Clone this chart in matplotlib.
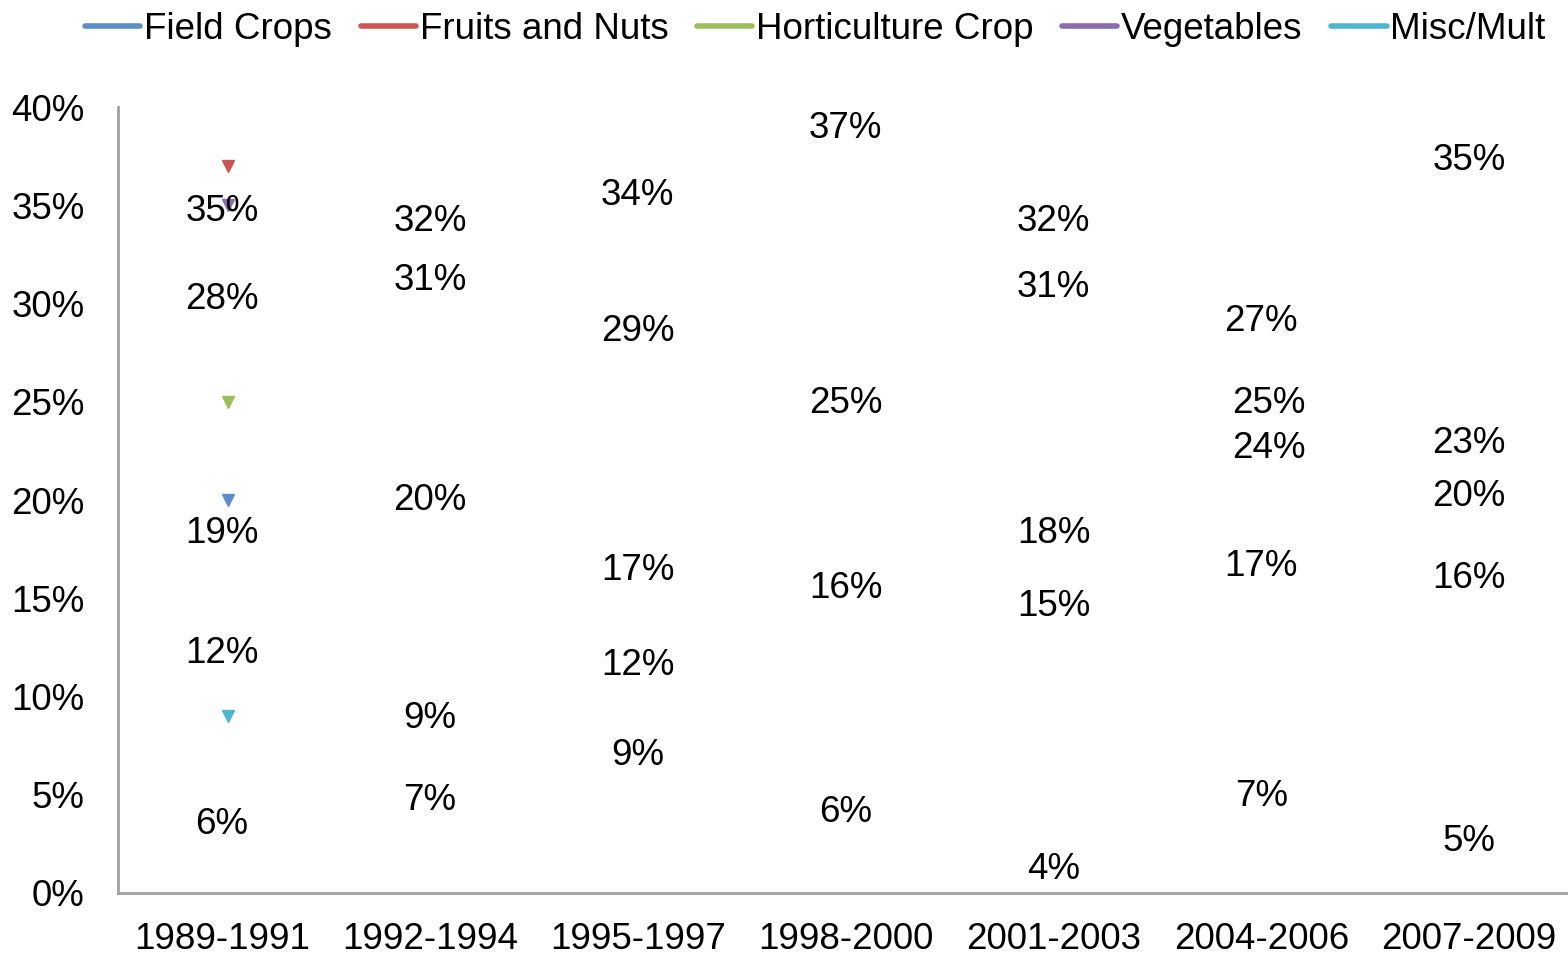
import matplotlib.pyplot as plt
import matplotlib.ticker as tick
import numpy as np

plt.rcParams['font.family'] = ['Liberation Sans', 'DejaVu Sans']

categories = ["1989-1991", "1992-1994", "1995-1997", "1998-2000",
              "2001-2003", "2004-2006", "2007-2009"]

series_names = ["Field Crops", "Fruits and Nuts", "Horticulture Crop",
                "Vegetables", "Misc/Mult"]
series_colors = ["#5b8fcb", "#cd5551", "#9dbf5a", "#8a6bb0", "#4db5d0"]

# only the first point of each series shows in the picture
field_crops = [20, None, None, None, None, None, None]
fruits_nuts = [37, None, None, None, None, None, None]
horticulture = [25, None, None, None, None, None, None]
vegetables = [35, None, None, None, None, None, None]
misc_mult = [9, None, None, None, None, None, None]
series_values = [field_crops, fruits_nuts, horticulture, vegetables, misc_mult]

# data labels (text) and where they sit on the value axis, per category
label_text = [
    ["35%", "28%", "19%", "12%", "6%"],
    ["32%", "31%", "20%", "9%", "7%"],
    ["34%", "29%", "17%", "12%", "9%"],
    ["37%", "25%", "16%", "6%"],
    ["32%", "31%", "18%", "15%", "4%"],
    ["27%", "25%", "24%", "17%", "7%"],
    ["35%", "23%", "20%", "16%", "5%"],
]
label_y = [
    [34.7, 30.2, 18.3, 12.2, 3.5],
    [34.2, 31.2, 20.0, 8.9, 4.7],
    [35.5, 28.6, 16.4, 11.6, 7.0],
    [38.9, 24.9, 15.5, 4.1],
    [34.2, 30.8, 18.3, 14.6, 1.2],
    [29.1, 24.9, 22.6, 16.6, 4.9],
    [37.3, 22.9, 20.2, 16.0, 2.6],
]
label_dx = [
    [0, 0, 0, 0, 0],
    [0, 0, 0, 0, 0],
    [0, 0, 0, 0, 0],
    [0, 0, 0, 0],
    [0, 0, 0, 0, 0],
    [0, 0.035, 0.035, 0, 0],
    [0, 0, 0, 0, 0],
]

fig = plt.figure(figsize=(15.68, 9.57), dpi=100)
ax = fig.add_axes([0.0753, 0.067, 0.928, 0.821])

x = np.arange(len(categories))
for name, vals, col in zip(series_names, series_values, series_colors):
    v = np.array([np.nan if a is None else a for a in vals], dtype=float)
    ax.plot(x + 0.03, v, color=col, lw=4, solid_capstyle='round',
            marker='v', markersize=8, label=name, clip_on=False)

for i, (texts, ys, dxs) in enumerate(zip(label_text, label_y, label_dx)):
    for t, yy, dx in zip(texts, ys, dxs):
        ax.text(i + dx, yy, t, ha='center', va='center', fontsize=26.5)

ax.set_xlim(-0.5, len(categories) - 0.5)
ax.set_ylim(0, 40)
ax.set_xticks(x)
ax.set_xticklabels(categories, fontsize=26.5)
ax.set_yticks(np.arange(0, 41, 5))
ax.yaxis.set_major_formatter(tick.PercentFormatter(decimals=0))
ax.tick_params(axis='y', labelsize=26.5, length=0, pad=24)
ax.tick_params(axis='x', length=0, pad=21)
for s in ['top', 'right']:
    ax.spines[s].set_visible(False)
for s in ['left', 'bottom']:
    ax.spines[s].set_color('#a0a0a0')
    ax.spines[s].set_linewidth(2)

handles = [plt.Line2D([], [], color=c, lw=4, solid_capstyle='round')
           for c in series_colors]
fig.legend(handles, series_names, loc='upper center', ncol=5,
           bbox_to_anchor=(0.52, 1.022), frameon=False, fontsize=26.5,
           handlelength=1.5, handletextpad=0.1, columnspacing=0.78)

fig.savefig("out.png", dpi=100)
